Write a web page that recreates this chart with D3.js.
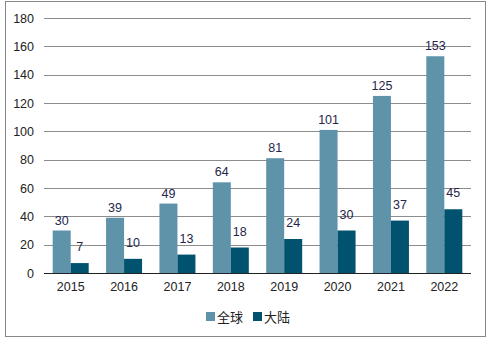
<!DOCTYPE html>
<html><head><meta charset="utf-8">
<script src="https://cdn.jsdelivr.net/npm/d3@7/dist/d3.min.js"></script>
<style>body{margin:0;background:#fff}svg{display:block}</style>
</head><body><svg id="c" width="489" height="342"></svg>
<script>
const categories = ["2015","2016","2017","2018","2019","2020","2021","2022"];
const globalValues = [30,39,49,64,81,101,125,153];
const mainlandValues = [7,10,13,18,24,30,37,45];
const seriesNames = ["全球","大陆"];
const yTicks = [0,20,40,60,80,100,120,140,160,180];
const colors = ["#5f93aa","#00526e"];

(function(){
const svg = d3.select("#c");
const font = "Liberation Sans, Arial, sans-serif";
svg.append("rect").attr("x",5.5).attr("y",1.5).attr("width",480).attr("height",335)
  .attr("fill","#fff").attr("stroke","#888").attr("stroke-width",1);

const mL = 44, mR = 471, mT = 18, mB = 273;
const x = d3.scaleBand().domain(categories).range([mL,mR]).paddingInner(0).paddingOuter(0);
const y = d3.scaleLinear().domain([0,180]).range([mB,mT]);
const barW = 18;

svg.append("g").selectAll("line").data(yTicks.filter(d=>d>0)).join("line")
  .attr("x1",mL).attr("x2",mR)
  .attr("y1",d=>Math.round(y(d))+0.5).attr("y2",d=>Math.round(y(d))+0.5)
  .attr("stroke","#8c8c8c").attr("stroke-width",1);

const yAxis = d3.axisLeft(y).tickValues(yTicks).tickSize(0).tickPadding(8);
const gy = svg.append("g").attr("transform",`translate(${mL},0)`).call(yAxis);
gy.select(".domain").remove();
gy.selectAll("text").attr("font-family",font).attr("font-size",12.5).attr("fill","#222").attr("x",-10);

const data = [globalValues, mainlandValues];
data.forEach((vals,si)=>{
  svg.append("g").selectAll("rect").data(vals).join("rect")
    .attr("x",(d,i)=>x(categories[i])+x.bandwidth()/2-barW+si*barW)
    .attr("y",d=>y(d)).attr("width",barW).attr("height",d=>mB-y(d))
    .attr("fill",colors[si]);
  svg.append("g").selectAll("text").data(vals).join("text")
    .attr("x",(d,i)=>x(categories[i])+x.bandwidth()/2-barW/2+si*barW)
    .attr("y",d=>y(d)-(si===0?6:12))
    .attr("text-anchor","middle").attr("font-family",font).attr("font-size",12.5)
    .attr("fill","#26264a").text(d=>d);
});

const xAxis = d3.axisBottom(x).tickSize(0).tickPadding(9);
const gx = svg.append("g").attr("transform",`translate(0,${mB})`).call(xAxis);
gx.select(".domain").attr("stroke","#222").attr("d",`M${mL},0.5H${mR}`);
gx.selectAll("text").attr("font-family",font).attr("font-size",12.5).attr("fill","#222");

const lg = svg.append("g").attr("transform","translate(206,312)");
const offs = [0,47];
seriesNames.forEach((n,i)=>{
  lg.append("rect").attr("x",offs[i]).attr("y",0).attr("width",9).attr("height",9).attr("fill",colors[i]);
  lg.append("text").attr("x",offs[i]+11).attr("y",9.5).attr("font-family","Noto Sans CJK SC, sans-serif")
    .attr("font-size",13).attr("fill","#222").text(n);
});
})();
</script></body></html>
